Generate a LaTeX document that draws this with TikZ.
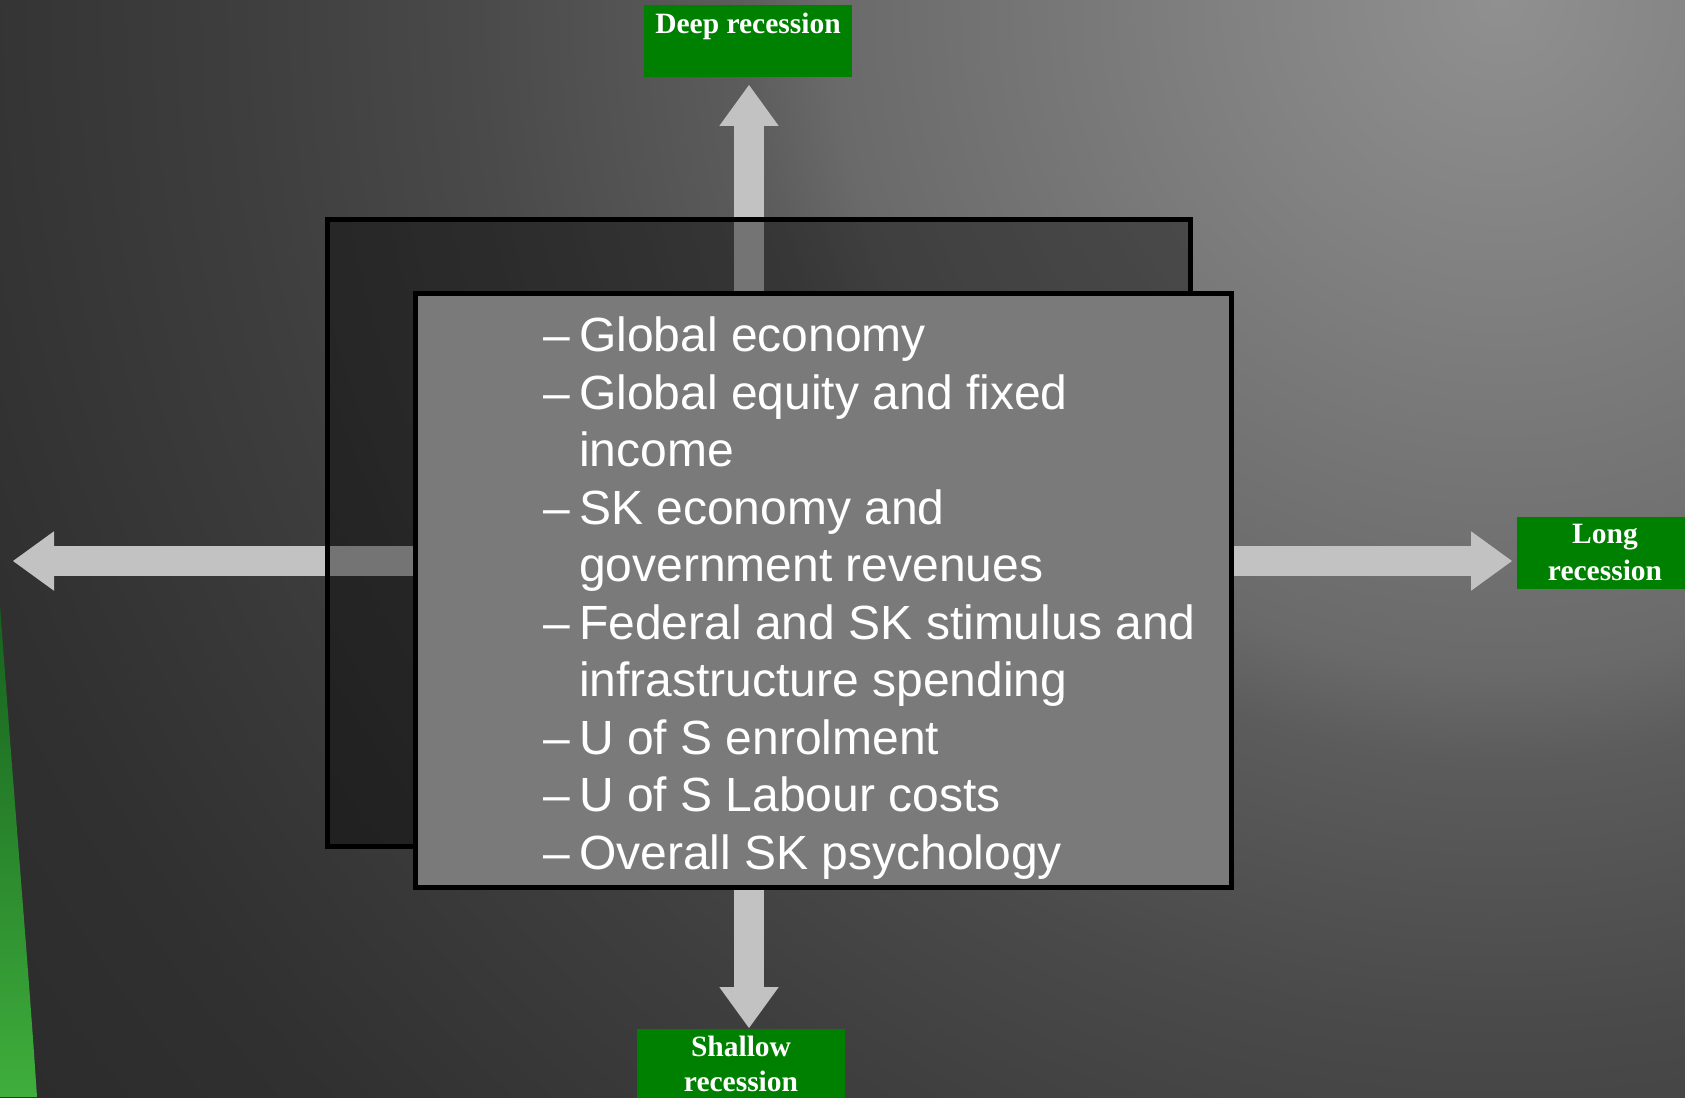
\documentclass[tikz,border=0pt]{standalone}
\usepackage{fontspec}
\setmainfont{Liberation Sans}
\newfontfamily\boxfont{Liberation Serif}
\usetikzlibrary{arrows.meta,calc}
\definecolor{bgA}{HTML}{909090}
\definecolor{bgB}{HTML}{808080}
\definecolor{bgC}{HTML}{6A6A6A}
\definecolor{bgD}{HTML}{5C5C5C}
\definecolor{bgE}{HTML}{4A4A4A}
\definecolor{bgF}{HTML}{3E3E3E}
\definecolor{bgG}{HTML}{303030}
\definecolor{bgH}{HTML}{2A2A2A}
\definecolor{arrowgray}{HTML}{C2C2C2}
\definecolor{boxgray}{HTML}{7A7A7A}
\definecolor{boxgreen}{HTML}{008000}
\definecolor{streakdark}{HTML}{16621E}
\definecolor{streaklight}{HTML}{3FAE3C}
\pgfdeclareradialshading{bgshade}{\pgfpoint{0bp}{0bp}}{color(0bp)=(bgA); color(3.8bp)=(bgB); color(8.8bp)=(bgC); color(10bp)=(bgD); color(13.45bp)=(bgE); color(16.6bp)=(bgF); color(21.2bp)=(bgG); color(25.7bp)=(bgH); color(50bp)=(bgH)}
\pgfdeclarelayer{bglayer}
\pgfdeclarelayer{arrowlayer}
\pgfsetlayers{bglayer,arrowlayer,main}
\newcommand\dashitem{\makebox[36pt][l]{–}}
\begin{document}
\begin{tikzpicture}[x=1pt,y=-1pt,
  bigarrow/.style={draw=arrowgray, line width=29.5pt,
    -{Triangle[width=59.5pt,length=41pt,line width=0pt]}},
  backbox/.style={draw=black, line width=5pt, fill=black, fill opacity=0.4,
    inner sep=0pt, anchor=north west},
  frontbox/.style={draw=black, line width=5pt, fill=boxgray,
    inner sep=0pt, anchor=north west},
  greenbox/.style={fill=boxgreen, draw=none, inner sep=0pt, outer sep=0pt,
    anchor=north west},
  greentext/.style={text=white, inner sep=0pt, anchor=base,
    font=\boxfont\bfseries\fontsize{29.5}{36}\selectfont},
  maintext/.style={text=white, inner sep=0pt, anchor=base west,
    font=\fontsize{48}{57.5}\selectfont},
]
\useasboundingbox (0,0) rectangle (1685,1097);
\begin{pgfonlayer}{bglayer}
  \fill[bgH] (0,0) rectangle (1685,1097);
  \begin{scope}
    \clip (0,0) rectangle (1685,1097);
    \shade[shading=bgshade] (1500,0) circle[radius=1900];
  \end{scope}
  \shade[top color=streakdark, bottom color=streaklight]
    (0,605) .. controls (14,800) and (28,960) .. (37,1097) -- (0,1097) -- cycle;
\end{pgfonlayer}

% boxes
\node[backbox, minimum width=863.5pt, minimum height=626.5pt] (back) at (324.5,217) {};
\node[frontbox, minimum width=816pt, minimum height=593.5pt] (front) at (413,291) {};

% text
\node[maintext] (txt) at (543,351.5) {\parbox[t]{700pt}{\raggedright
\dashitem Global economy\\
\dashitem Global equity and fixed\\
\hspace*{36pt}income\\
\dashitem SK economy and\\
\hspace*{36pt}government revenues\\
\dashitem Federal and SK stimulus and\\
\hspace*{36pt}infrastructure spending\\
\dashitem U of S enrolment\\
\dashitem U of S Labour costs\\
\dashitem Overall SK psychology}};

% green outcome boxes
\node[greenbox, minimum width=208pt, minimum height=72pt] (deep) at (644,5) {};
\node[greentext] (deepT) at ($(deep.north)+(0,28.3)$) {Deep recession};
\node[greenbox, minimum width=176pt, minimum height=72pt] (long) at (1517,517) {};
\node[greentext] (longT1) at ($(long.north)+(0,26)$) {Long};
\node[greentext] (longT2) at ($(long.north)+(0,63)$) {recession};
\node[greenbox, minimum width=208pt, minimum height=80pt] (shallow) at (637,1029) {};
\node[greentext] (shallowT1) at ($(shallow.north)+(0,27.7)$) {Shallow};
\node[greentext] (shallowT2) at ($(shallow.north)+(0,62.7)$) {recession};

% arrows
\coordinate (axis) at (749,561);
\coordinate (leftend) at (13,561);
\begin{pgfonlayer}{arrowlayer}
  \draw[bigarrow, shorten >=8pt] (axis |- front.north) -- (axis |- deep.south);
  \draw[bigarrow, shorten >=1pt] (axis |- front.south) -- (axis |- shallow.north);
  \draw[bigarrow] (axis -| front.west) -- (leftend);
  \draw[bigarrow, shorten >=5pt] (axis -| front.east) -- (axis -| long.west);
\end{pgfonlayer}
\end{tikzpicture}
\end{document}
